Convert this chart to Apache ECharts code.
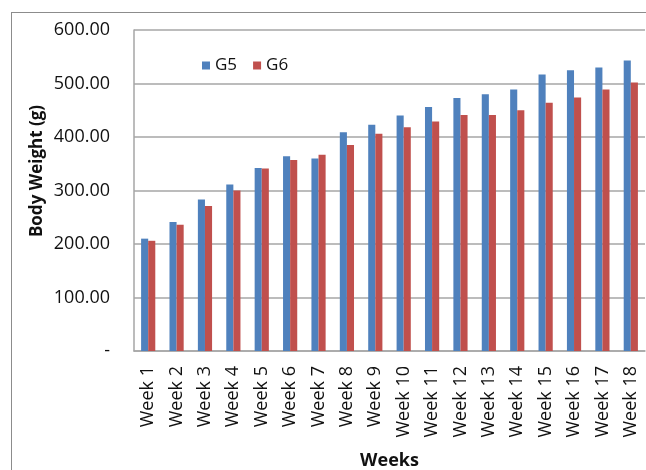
<!DOCTYPE html>
<html>
<head>
<meta charset="utf-8">
<script src="https://cdn.jsdelivr.net/npm/echarts@6/dist/echarts.min.js"></script>
<style>
  html, body { margin: 0; padding: 0; background: #fff; overflow: hidden; width: 646px; height: 470px; }
  #frame { position: absolute; left: 11px; top: 12px; width: 700px; height: 520px;
           border-left: 1.5px solid #8c8c8c; border-top: 1.5px solid #8c8c8c; }
  #chart { position: absolute; left: 0; top: 0; width: 646px; height: 470px; }
</style>
</head>
<body>
<div id="frame"></div>
<div id="chart"></div>
<script>
  const weeks = ['Week 1', 'Week 2', 'Week 3', 'Week 4', 'Week 5', 'Week 6', 'Week 7', 'Week 8', 'Week 9',
    'Week 10', 'Week 11', 'Week 12', 'Week 13', 'Week 14', 'Week 15', 'Week 16', 'Week 17', 'Week 18'];
  const g5 = [210, 241, 283, 311, 342, 364, 360, 409, 423, 440, 456, 473, 480, 489, 517, 525, 530, 543];
  const g6 = [206, 236, 271, 300, 341, 357, 367, 385, 406, 418, 429, 441, 441, 450, 464, 474, 489, 502];
  const yTicks = [0, 100, 200, 300, 400, 500, 600];

  const chart = echarts.init(document.getElementById('chart'));
  const font = "'Open Sans', 'Liberation Sans', sans-serif";

  chart.setOption({
    animation: false,
    textStyle: { fontFamily: font },
    legend: {
      left: 197,
      top: 52,
      itemWidth: 8,
      itemHeight: 8,
      itemGap: 16,
      icon: 'rect',
      textStyle: { fontSize: 17, color: '#111', fontFamily: font },
      data: ['G5', 'G6']
    },
    grid: {
      left: 134,
      right: 1,
      top: 30,
      bottom: 119,
      outerBoundsMode: 'none'
    },
    xAxis: {
      type: 'category',
      data: weeks,
      axisLine: { lineStyle: { color: '#a6a6a6', width: 1.5 } },
      axisTick: { show: false },
      axisLabel: { rotate: 90, fontSize: 18, color: '#111', margin: 15, interval: 0 },
      name: 'Weeks',
      nameLocation: 'middle',
      nameGap: 101,
      nameTextStyle: { fontSize: 18, fontWeight: 'bold', color: '#111' }
    },
    yAxis: {
      type: 'value',
      min: yTicks[0],
      max: yTicks[yTicks.length - 1],
      interval: 100,
      axisLine: { show: true, lineStyle: { color: '#a6a6a6', width: 1.5 } },
      axisTick: { show: false },
      splitLine: { lineStyle: { color: '#a6a6a6', width: 1.5 } },
      axisLabel: {
        fontSize: 18,
        color: '#111',
        margin: 24,
        formatter: v => v === 0 ? '-' : v.toFixed(2)
      }
    },
    graphic: [{
      type: 'text',
      x: 37,
      y: 171,
      rotation: Math.PI / 2,
      style: {
        text: 'Body Weight (g)',
        font: "bold 17px 'Open Sans', 'Liberation Sans', sans-serif",
        fill: '#111',
        align: 'center',
        verticalAlign: 'middle'
      }
    }],
    series: [
      {
        name: 'G5',
        type: 'bar',
        data: g5,
        barWidth: '25%',
        barGap: '0%',
        itemStyle: { color: '#4F81BD' }
      },
      {
        name: 'G6',
        type: 'bar',
        data: g6,
        barWidth: '25%',
        itemStyle: { color: '#C0504D' }
      }
    ]
  });
</script>
</body>
</html>
